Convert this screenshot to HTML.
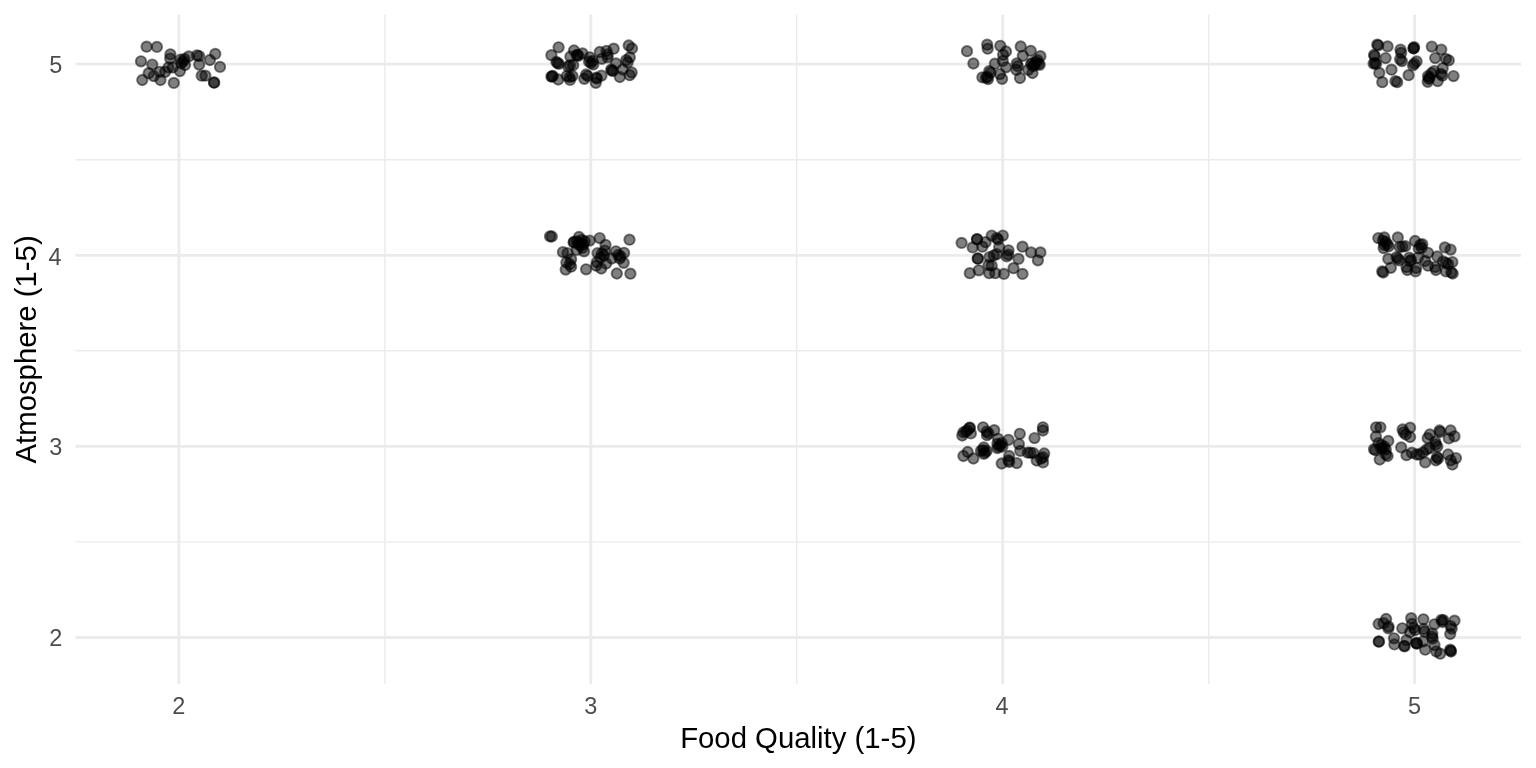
<!DOCTYPE html>
<html><head><meta charset="utf-8"><title>plot</title>
<style>
html,body{margin:0;padding:0;background:#fff;}
body{width:1536px;height:768px;overflow:hidden;position:relative;font-family:"Liberation Sans",sans-serif;}
svg{position:absolute;left:0;top:0;will-change:transform;}
.tick{font-size:23.47px;fill:#4d4d4d;}
.ttl{font-size:29.33px;fill:#000;}
.p{fill:#000;fill-opacity:.5;stroke:#000;stroke-opacity:.5;stroke-width:1.9;}
</style></head><body>
<svg width="1536" height="768" viewBox="0 0 1536 768">
<rect width="1536" height="768" fill="#fff"/>
<g stroke="#ebebeb" fill="none">
<line x1="384.9" x2="384.9" y1="14.8" y2="684.0" stroke-width="1.42"/>
<line x1="796.7" x2="796.7" y1="14.8" y2="684.0" stroke-width="1.42"/>
<line x1="1208.7" x2="1208.7" y1="14.8" y2="684.0" stroke-width="1.42"/>
<line y1="541.9" y2="541.9" x1="75.5" x2="1521.0" stroke-width="1.42"/>
<line y1="350.8" y2="350.8" x1="75.5" x2="1521.0" stroke-width="1.42"/>
<line y1="159.7" y2="159.7" x1="75.5" x2="1521.0" stroke-width="1.42"/>
<line x1="178.9" x2="178.9" y1="14.8" y2="684.0" stroke-width="2.85"/>
<line x1="590.8" x2="590.8" y1="14.8" y2="684.0" stroke-width="2.85"/>
<line x1="1002.7" x2="1002.7" y1="14.8" y2="684.0" stroke-width="2.85"/>
<line x1="1414.6" x2="1414.6" y1="14.8" y2="684.0" stroke-width="2.85"/>
<line y1="637.5" y2="637.5" x1="75.5" x2="1521.0" stroke-width="2.85"/>
<line y1="446.4" y2="446.4" x1="75.5" x2="1521.0" stroke-width="2.85"/>
<line y1="255.3" y2="255.3" x1="75.5" x2="1521.0" stroke-width="2.85"/>
<line y1="64.1" y2="64.1" x1="75.5" x2="1521.0" stroke-width="2.85"/>
</g>
<g class="pts">
<circle class="p" cx="146.6" cy="46.7" r="5.2"/>
<circle class="p" cx="156.9" cy="46.9" r="5.2"/>
<circle class="p" cx="141.0" cy="61.3" r="5.2"/>
<circle class="p" cx="152.3" cy="64.6" r="5.2"/>
<circle class="p" cx="170.4" cy="54.3" r="5.2"/>
<circle class="p" cx="170.2" cy="58.6" r="5.2"/>
<circle class="p" cx="148.7" cy="73.2" r="5.2"/>
<circle class="p" cx="153.7" cy="76.1" r="5.2"/>
<circle class="p" cx="142.3" cy="80.0" r="5.2"/>
<circle class="p" cx="160.5" cy="80.0" r="5.2"/>
<circle class="p" cx="173.8" cy="82.9" r="5.2"/>
<circle class="p" cx="159.8" cy="71.8" r="5.2"/>
<circle class="p" cx="165.2" cy="71.8" r="5.2"/>
<circle class="p" cx="168.4" cy="67.5" r="5.2"/>
<circle class="p" cx="172.7" cy="67.5" r="5.2"/>
<circle class="p" cx="179.9" cy="71.1" r="5.2"/>
<circle class="p" cx="180.6" cy="59.6" r="5.2"/>
<circle class="p" cx="183.4" cy="61.1" r="5.2"/>
<circle class="p" cx="184.5" cy="58.9" r="5.2"/>
<circle class="p" cx="181.3" cy="63.2" r="5.2"/>
<circle class="p" cx="188.8" cy="56.4" r="5.2"/>
<circle class="p" cx="197.0" cy="55.3" r="5.2"/>
<circle class="p" cx="199.2" cy="56.1" r="5.2"/>
<circle class="p" cx="199.2" cy="64.6" r="5.2"/>
<circle class="p" cx="209.9" cy="60.0" r="5.2"/>
<circle class="p" cx="215.3" cy="53.9" r="5.2"/>
<circle class="p" cx="220.0" cy="66.9" r="5.2"/>
<circle class="p" cx="201.7" cy="75.7" r="5.2"/>
<circle class="p" cx="205.4" cy="75.7" r="5.2"/>
<circle class="p" cx="214.1" cy="82.5" r="5.2"/>
<circle class="p" cx="214.1" cy="82.7" r="5.2"/>
<circle class="p" cx="185.0" cy="65.0" r="5.2"/>
<circle class="p" cx="558.6" cy="47.3" r="5.2"/>
<circle class="p" cx="551.4" cy="55.2" r="5.2"/>
<circle class="p" cx="551.4" cy="76.7" r="5.2"/>
<circle class="p" cx="552.8" cy="76.0" r="5.2"/>
<circle class="p" cx="552.1" cy="76.3" r="5.2"/>
<circle class="p" cx="558.2" cy="79.5" r="5.2"/>
<circle class="p" cx="574.0" cy="50.5" r="5.2"/>
<circle class="p" cx="576.8" cy="55.2" r="5.2"/>
<circle class="p" cx="578.3" cy="55.9" r="5.2"/>
<circle class="p" cx="577.5" cy="54.8" r="5.2"/>
<circle class="p" cx="570.4" cy="56.6" r="5.2"/>
<circle class="p" cx="582.5" cy="53.4" r="5.2"/>
<circle class="p" cx="568.2" cy="66.6" r="5.2"/>
<circle class="p" cx="570.0" cy="65.2" r="5.2"/>
<circle class="p" cx="573.2" cy="65.2" r="5.2"/>
<circle class="p" cx="569.7" cy="77.0" r="5.2"/>
<circle class="p" cx="572.5" cy="76.0" r="5.2"/>
<circle class="p" cx="570.0" cy="79.9" r="5.2"/>
<circle class="p" cx="566.8" cy="76.0" r="5.2"/>
<circle class="p" cx="589.7" cy="57.3" r="5.2"/>
<circle class="p" cx="589.0" cy="61.6" r="5.2"/>
<circle class="p" cx="591.1" cy="63.1" r="5.2"/>
<circle class="p" cx="592.6" cy="60.9" r="5.2"/>
<circle class="p" cx="593.3" cy="64.5" r="5.2"/>
<circle class="p" cx="586.1" cy="74.5" r="5.2"/>
<circle class="p" cx="587.6" cy="76.0" r="5.2"/>
<circle class="p" cx="584.3" cy="78.8" r="5.2"/>
<circle class="p" cx="596.2" cy="77.7" r="5.2"/>
<circle class="p" cx="596.9" cy="78.5" r="5.2"/>
<circle class="p" cx="601.5" cy="75.6" r="5.2"/>
<circle class="p" cx="595.8" cy="82.8" r="5.2"/>
<circle class="p" cx="599.7" cy="52.0" r="5.2"/>
<circle class="p" cx="606.5" cy="50.9" r="5.2"/>
<circle class="p" cx="607.6" cy="54.5" r="5.2"/>
<circle class="p" cx="613.7" cy="48.7" r="5.2"/>
<circle class="p" cx="601.9" cy="58.8" r="5.2"/>
<circle class="p" cx="607.6" cy="57.3" r="5.2"/>
<circle class="p" cx="615.9" cy="63.4" r="5.2"/>
<circle class="p" cx="611.2" cy="69.5" r="5.2"/>
<circle class="p" cx="613.0" cy="70.9" r="5.2"/>
<circle class="p" cx="611.9" cy="70.6" r="5.2"/>
<circle class="p" cx="619.8" cy="77.0" r="5.2"/>
<circle class="p" cx="622.7" cy="69.5" r="5.2"/>
<circle class="p" cx="626.2" cy="60.2" r="5.2"/>
<circle class="p" cx="627.7" cy="62.3" r="5.2"/>
<circle class="p" cx="629.8" cy="57.3" r="5.2"/>
<circle class="p" cx="628.7" cy="45.5" r="5.2"/>
<circle class="p" cx="632.0" cy="48.4" r="5.2"/>
<circle class="p" cx="556.4" cy="62.0" r="5.2"/>
<circle class="p" cx="558.8" cy="63.9" r="5.2"/>
<circle class="p" cx="557.7" cy="63.1" r="5.2"/>
<circle class="p" cx="631.7" cy="72.5" r="5.2"/>
<circle class="p" cx="629.7" cy="75.2" r="5.2"/>
<circle class="p" cx="967.0" cy="51.2" r="5.2"/>
<circle class="p" cx="973.4" cy="63.5" r="5.2"/>
<circle class="p" cx="987.2" cy="44.7" r="5.2"/>
<circle class="p" cx="987.7" cy="48.7" r="5.2"/>
<circle class="p" cx="1000.3" cy="45.8" r="5.2"/>
<circle class="p" cx="1006.0" cy="51.5" r="5.2"/>
<circle class="p" cx="1003.1" cy="54.8" r="5.2"/>
<circle class="p" cx="1002.8" cy="60.9" r="5.2"/>
<circle class="p" cx="994.9" cy="63.7" r="5.2"/>
<circle class="p" cx="1006.0" cy="67.3" r="5.2"/>
<circle class="p" cx="989.2" cy="71.2" r="5.2"/>
<circle class="p" cx="990.6" cy="72.7" r="5.2"/>
<circle class="p" cx="986.0" cy="77.7" r="5.2"/>
<circle class="p" cx="987.4" cy="77.0" r="5.2"/>
<circle class="p" cx="988.1" cy="79.1" r="5.2"/>
<circle class="p" cx="982.4" cy="77.3" r="5.2"/>
<circle class="p" cx="999.9" cy="74.1" r="5.2"/>
<circle class="p" cx="1002.1" cy="78.8" r="5.2"/>
<circle class="p" cx="1020.7" cy="46.5" r="5.2"/>
<circle class="p" cx="1030.7" cy="50.8" r="5.2"/>
<circle class="p" cx="1022.8" cy="55.8" r="5.2"/>
<circle class="p" cx="1016.8" cy="63.4" r="5.2"/>
<circle class="p" cx="1017.8" cy="66.2" r="5.2"/>
<circle class="p" cx="1016.4" cy="69.8" r="5.2"/>
<circle class="p" cx="1020.0" cy="78.0" r="5.2"/>
<circle class="p" cx="1032.5" cy="62.6" r="5.2"/>
<circle class="p" cx="1034.7" cy="64.8" r="5.2"/>
<circle class="p" cx="1036.1" cy="61.9" r="5.2"/>
<circle class="p" cx="1033.2" cy="66.2" r="5.2"/>
<circle class="p" cx="1031.1" cy="64.1" r="5.2"/>
<circle class="p" cx="1040.4" cy="56.2" r="5.2"/>
<circle class="p" cx="1039.7" cy="64.8" r="5.2"/>
<circle class="p" cx="1032.5" cy="73.0" r="5.2"/>
<circle class="p" cx="1028.2" cy="69.8" r="5.2"/>
<circle class="p" cx="1038.6" cy="63.7" r="5.2"/>
<circle class="p" cx="1037.5" cy="60.1" r="5.2"/>
<circle class="p" cx="1377.2" cy="44.7" r="5.2"/>
<circle class="p" cx="1378.3" cy="45.3" r="5.2"/>
<circle class="p" cx="1387.6" cy="46.4" r="5.2"/>
<circle class="p" cx="1374.0" cy="55.0" r="5.2"/>
<circle class="p" cx="1374.7" cy="56.1" r="5.2"/>
<circle class="p" cx="1373.6" cy="63.6" r="5.2"/>
<circle class="p" cx="1375.0" cy="62.9" r="5.2"/>
<circle class="p" cx="1376.1" cy="63.9" r="5.2"/>
<circle class="p" cx="1385.6" cy="58.1" r="5.2"/>
<circle class="p" cx="1379.3" cy="72.9" r="5.2"/>
<circle class="p" cx="1391.5" cy="69.7" r="5.2"/>
<circle class="p" cx="1382.3" cy="82.2" r="5.2"/>
<circle class="p" cx="1395.4" cy="81.1" r="5.2"/>
<circle class="p" cx="1397.2" cy="82.2" r="5.2"/>
<circle class="p" cx="1400.5" cy="49.6" r="5.2"/>
<circle class="p" cx="1401.2" cy="52.8" r="5.2"/>
<circle class="p" cx="1400.1" cy="59.3" r="5.2"/>
<circle class="p" cx="1401.9" cy="61.1" r="5.2"/>
<circle class="p" cx="1413.4" cy="48.2" r="5.2"/>
<circle class="p" cx="1414.1" cy="47.1" r="5.2"/>
<circle class="p" cx="1413.7" cy="48.5" r="5.2"/>
<circle class="p" cx="1416.6" cy="61.4" r="5.2"/>
<circle class="p" cx="1413.0" cy="65.4" r="5.2"/>
<circle class="p" cx="1414.4" cy="63.6" r="5.2"/>
<circle class="p" cx="1408.6" cy="75.2" r="5.2"/>
<circle class="p" cx="1431.8" cy="46.6" r="5.2"/>
<circle class="p" cx="1441.3" cy="49.6" r="5.2"/>
<circle class="p" cx="1435.2" cy="58.1" r="5.2"/>
<circle class="p" cx="1445.9" cy="58.9" r="5.2"/>
<circle class="p" cx="1448.8" cy="60.3" r="5.2"/>
<circle class="p" cx="1442.7" cy="68.2" r="5.2"/>
<circle class="p" cx="1434.1" cy="71.1" r="5.2"/>
<circle class="p" cx="1428.0" cy="76.1" r="5.2"/>
<circle class="p" cx="1429.5" cy="77.5" r="5.2"/>
<circle class="p" cx="1428.8" cy="79.0" r="5.2"/>
<circle class="p" cx="1427.7" cy="81.8" r="5.2"/>
<circle class="p" cx="1437.7" cy="81.1" r="5.2"/>
<circle class="p" cx="1440.9" cy="74.0" r="5.2"/>
<circle class="p" cx="1442.4" cy="75.7" r="5.2"/>
<circle class="p" cx="1453.5" cy="76.1" r="5.2"/>
<circle class="p" cx="1431.6" cy="73.2" r="5.2"/>
<circle class="p" cx="550.0" cy="236.3" r="5.2"/>
<circle class="p" cx="551.8" cy="236.5" r="5.2"/>
<circle class="p" cx="562.9" cy="252.1" r="5.2"/>
<circle class="p" cx="567.5" cy="253.1" r="5.2"/>
<circle class="p" cx="571.1" cy="259.2" r="5.2"/>
<circle class="p" cx="566.4" cy="262.4" r="5.2"/>
<circle class="p" cx="569.7" cy="264.2" r="5.2"/>
<circle class="p" cx="565.7" cy="269.6" r="5.2"/>
<circle class="p" cx="571.1" cy="266.7" r="5.2"/>
<circle class="p" cx="579.0" cy="237.0" r="5.2"/>
<circle class="p" cx="574.0" cy="242.0" r="5.2"/>
<circle class="p" cx="573.6" cy="242.4" r="5.2"/>
<circle class="p" cx="576.8" cy="241.3" r="5.2"/>
<circle class="p" cx="579.7" cy="242.8" r="5.2"/>
<circle class="p" cx="581.8" cy="239.9" r="5.2"/>
<circle class="p" cx="583.3" cy="244.2" r="5.2"/>
<circle class="p" cx="580.4" cy="245.6" r="5.2"/>
<circle class="p" cx="582.5" cy="247.8" r="5.2"/>
<circle class="p" cx="578.3" cy="244.2" r="5.2"/>
<circle class="p" cx="584.7" cy="241.3" r="5.2"/>
<circle class="p" cx="589.7" cy="240.6" r="5.2"/>
<circle class="p" cx="576.8" cy="249.9" r="5.2"/>
<circle class="p" cx="584.0" cy="251.3" r="5.2"/>
<circle class="p" cx="599.7" cy="238.1" r="5.2"/>
<circle class="p" cx="605.5" cy="244.9" r="5.2"/>
<circle class="p" cx="597.6" cy="253.1" r="5.2"/>
<circle class="p" cx="601.9" cy="253.5" r="5.2"/>
<circle class="p" cx="604.0" cy="255.6" r="5.2"/>
<circle class="p" cx="600.5" cy="257.8" r="5.2"/>
<circle class="p" cx="596.9" cy="262.1" r="5.2"/>
<circle class="p" cx="596.2" cy="265.7" r="5.2"/>
<circle class="p" cx="601.2" cy="268.5" r="5.2"/>
<circle class="p" cx="606.2" cy="263.5" r="5.2"/>
<circle class="p" cx="611.9" cy="258.5" r="5.2"/>
<circle class="p" cx="604.8" cy="250.6" r="5.2"/>
<circle class="p" cx="586.1" cy="269.3" r="5.2"/>
<circle class="p" cx="615.9" cy="251.3" r="5.2"/>
<circle class="p" cx="624.1" cy="252.8" r="5.2"/>
<circle class="p" cx="618.4" cy="254.9" r="5.2"/>
<circle class="p" cx="620.5" cy="256.4" r="5.2"/>
<circle class="p" cx="619.8" cy="258.5" r="5.2"/>
<circle class="p" cx="623.7" cy="262.8" r="5.2"/>
<circle class="p" cx="629.5" cy="239.7" r="5.2"/>
<circle class="p" cx="616.8" cy="273.5" r="5.2"/>
<circle class="p" cx="630.4" cy="273.7" r="5.2"/>
<circle class="p" cx="961.6" cy="242.9" r="5.2"/>
<circle class="p" cx="977.0" cy="239.2" r="5.2"/>
<circle class="p" cx="977.1" cy="239.3" r="5.2"/>
<circle class="p" cx="972.7" cy="247.4" r="5.2"/>
<circle class="p" cx="985.6" cy="242.2" r="5.2"/>
<circle class="p" cx="982.4" cy="246.7" r="5.2"/>
<circle class="p" cx="991.7" cy="235.6" r="5.2"/>
<circle class="p" cx="1002.8" cy="235.6" r="5.2"/>
<circle class="p" cx="996.7" cy="238.1" r="5.2"/>
<circle class="p" cx="998.1" cy="239.5" r="5.2"/>
<circle class="p" cx="999.2" cy="247.1" r="5.2"/>
<circle class="p" cx="1008.5" cy="250.3" r="5.2"/>
<circle class="p" cx="1006.7" cy="256.4" r="5.2"/>
<circle class="p" cx="1008.2" cy="254.6" r="5.2"/>
<circle class="p" cx="993.8" cy="255.3" r="5.2"/>
<circle class="p" cx="996.7" cy="254.2" r="5.2"/>
<circle class="p" cx="989.5" cy="257.1" r="5.2"/>
<circle class="p" cx="977.7" cy="258.5" r="5.2"/>
<circle class="p" cx="977.9" cy="258.7" r="5.2"/>
<circle class="p" cx="988.5" cy="265.0" r="5.2"/>
<circle class="p" cx="991.7" cy="265.7" r="5.2"/>
<circle class="p" cx="978.8" cy="270.3" r="5.2"/>
<circle class="p" cx="969.8" cy="273.2" r="5.2"/>
<circle class="p" cx="989.2" cy="273.2" r="5.2"/>
<circle class="p" cx="995.3" cy="273.2" r="5.2"/>
<circle class="p" cx="1003.9" cy="273.9" r="5.2"/>
<circle class="p" cx="1018.5" cy="258.9" r="5.2"/>
<circle class="p" cx="1013.5" cy="268.2" r="5.2"/>
<circle class="p" cx="1022.5" cy="273.9" r="5.2"/>
<circle class="p" cx="1022.5" cy="246.7" r="5.2"/>
<circle class="p" cx="1031.1" cy="252.4" r="5.2"/>
<circle class="p" cx="1040.4" cy="252.4" r="5.2"/>
<circle class="p" cx="1037.9" cy="260.3" r="5.2"/>
<circle class="p" cx="1378.3" cy="238.1" r="5.2"/>
<circle class="p" cx="1384.3" cy="237.4" r="5.2"/>
<circle class="p" cx="1382.9" cy="240.6" r="5.2"/>
<circle class="p" cx="1385.8" cy="242.0" r="5.2"/>
<circle class="p" cx="1384.3" cy="244.9" r="5.2"/>
<circle class="p" cx="1387.2" cy="244.2" r="5.2"/>
<circle class="p" cx="1383.6" cy="248.1" r="5.2"/>
<circle class="p" cx="1388.6" cy="246.3" r="5.2"/>
<circle class="p" cx="1397.8" cy="237.4" r="5.2"/>
<circle class="p" cx="1388.3" cy="258.9" r="5.2"/>
<circle class="p" cx="1396.5" cy="257.1" r="5.2"/>
<circle class="p" cx="1398.0" cy="258.5" r="5.2"/>
<circle class="p" cx="1399.0" cy="260.3" r="5.2"/>
<circle class="p" cx="1390.8" cy="267.8" r="5.2"/>
<circle class="p" cx="1382.2" cy="271.4" r="5.2"/>
<circle class="p" cx="1383.3" cy="272.5" r="5.2"/>
<circle class="p" cx="1415.1" cy="241.0" r="5.2"/>
<circle class="p" cx="1420.2" cy="244.9" r="5.2"/>
<circle class="p" cx="1422.3" cy="244.2" r="5.2"/>
<circle class="p" cx="1421.6" cy="247.8" r="5.2"/>
<circle class="p" cx="1418.7" cy="248.5" r="5.2"/>
<circle class="p" cx="1406.5" cy="267.1" r="5.2"/>
<circle class="p" cx="1407.3" cy="270.0" r="5.2"/>
<circle class="p" cx="1416.2" cy="267.8" r="5.2"/>
<circle class="p" cx="1415.5" cy="271.4" r="5.2"/>
<circle class="p" cx="1418.0" cy="257.8" r="5.2"/>
<circle class="p" cx="1425.2" cy="261.0" r="5.2"/>
<circle class="p" cx="1428.0" cy="265.7" r="5.2"/>
<circle class="p" cx="1435.2" cy="267.1" r="5.2"/>
<circle class="p" cx="1435.9" cy="270.0" r="5.2"/>
<circle class="p" cx="1437.3" cy="256.4" r="5.2"/>
<circle class="p" cx="1444.9" cy="247.4" r="5.2"/>
<circle class="p" cx="1450.6" cy="249.6" r="5.2"/>
<circle class="p" cx="1452.4" cy="262.1" r="5.2"/>
<circle class="p" cx="1445.9" cy="262.8" r="5.2"/>
<circle class="p" cx="1448.1" cy="264.2" r="5.2"/>
<circle class="p" cx="1443.1" cy="261.4" r="5.2"/>
<circle class="p" cx="1451.3" cy="272.5" r="5.2"/>
<circle class="p" cx="1452.7" cy="273.5" r="5.2"/>
<circle class="p" cx="1445.9" cy="271.4" r="5.2"/>
<circle class="p" cx="1399.6" cy="247.0" r="5.2"/>
<circle class="p" cx="1402.5" cy="246.6" r="5.2"/>
<circle class="p" cx="1405.3" cy="246.2" r="5.2"/>
<circle class="p" cx="1428.0" cy="252.8" r="5.2"/>
<circle class="p" cx="1409.3" cy="257.7" r="5.2"/>
<circle class="p" cx="1411.0" cy="259.9" r="5.2"/>
<circle class="p" cx="1410.1" cy="261.2" r="5.2"/>
<circle class="p" cx="969.8" cy="427.7" r="5.2"/>
<circle class="p" cx="970.9" cy="433.4" r="5.2"/>
<circle class="p" cx="963.4" cy="432.3" r="5.2"/>
<circle class="p" cx="965.9" cy="431.6" r="5.2"/>
<circle class="p" cx="967.3" cy="430.2" r="5.2"/>
<circle class="p" cx="962.3" cy="435.5" r="5.2"/>
<circle class="p" cx="983.1" cy="427.3" r="5.2"/>
<circle class="p" cx="994.2" cy="430.2" r="5.2"/>
<circle class="p" cx="986.7" cy="431.6" r="5.2"/>
<circle class="p" cx="988.5" cy="433.4" r="5.2"/>
<circle class="p" cx="987.0" cy="435.2" r="5.2"/>
<circle class="p" cx="998.1" cy="438.8" r="5.2"/>
<circle class="p" cx="997.4" cy="443.8" r="5.2"/>
<circle class="p" cx="1000.3" cy="445.2" r="5.2"/>
<circle class="p" cx="1001.7" cy="443.1" r="5.2"/>
<circle class="p" cx="998.8" cy="446.6" r="5.2"/>
<circle class="p" cx="1002.4" cy="446.6" r="5.2"/>
<circle class="p" cx="997.4" cy="448.1" r="5.2"/>
<circle class="p" cx="1008.5" cy="439.8" r="5.2"/>
<circle class="p" cx="1019.8" cy="433.8" r="5.2"/>
<circle class="p" cx="1018.9" cy="444.1" r="5.2"/>
<circle class="p" cx="1020.3" cy="450.9" r="5.2"/>
<circle class="p" cx="967.7" cy="452.0" r="5.2"/>
<circle class="p" cx="963.4" cy="456.0" r="5.2"/>
<circle class="p" cx="973.4" cy="458.5" r="5.2"/>
<circle class="p" cx="983.1" cy="450.2" r="5.2"/>
<circle class="p" cx="985.2" cy="452.4" r="5.2"/>
<circle class="p" cx="986.7" cy="450.9" r="5.2"/>
<circle class="p" cx="983.8" cy="453.8" r="5.2"/>
<circle class="p" cx="980.9" cy="450.9" r="5.2"/>
<circle class="p" cx="983.8" cy="447.4" r="5.2"/>
<circle class="p" cx="1009.2" cy="456.0" r="5.2"/>
<circle class="p" cx="1008.5" cy="460.3" r="5.2"/>
<circle class="p" cx="1009.2" cy="462.0" r="5.2"/>
<circle class="p" cx="1001.7" cy="463.5" r="5.2"/>
<circle class="p" cx="1016.8" cy="463.1" r="5.2"/>
<circle class="p" cx="1042.9" cy="427.3" r="5.2"/>
<circle class="p" cx="1042.9" cy="430.5" r="5.2"/>
<circle class="p" cx="1034.5" cy="438.1" r="5.2"/>
<circle class="p" cx="969.5" cy="428.0" r="5.2"/>
<circle class="p" cx="1027.8" cy="452.7" r="5.2"/>
<circle class="p" cx="1030.5" cy="452.7" r="5.2"/>
<circle class="p" cx="1033.4" cy="453.1" r="5.2"/>
<circle class="p" cx="1044.2" cy="453.5" r="5.2"/>
<circle class="p" cx="1043.0" cy="457.2" r="5.2"/>
<circle class="p" cx="1041.0" cy="458.7" r="5.2"/>
<circle class="p" cx="1036.7" cy="460.5" r="5.2"/>
<circle class="p" cx="1043.0" cy="462.4" r="5.2"/>
<circle class="p" cx="1376.1" cy="427.3" r="5.2"/>
<circle class="p" cx="1380.4" cy="427.3" r="5.2"/>
<circle class="p" cx="1375.9" cy="436.6" r="5.2"/>
<circle class="p" cx="1378.6" cy="443.1" r="5.2"/>
<circle class="p" cx="1381.5" cy="445.2" r="5.2"/>
<circle class="p" cx="1384.3" cy="446.6" r="5.2"/>
<circle class="p" cx="1382.9" cy="448.8" r="5.2"/>
<circle class="p" cx="1385.8" cy="449.5" r="5.2"/>
<circle class="p" cx="1380.8" cy="448.1" r="5.2"/>
<circle class="p" cx="1388.3" cy="440.9" r="5.2"/>
<circle class="p" cx="1374.0" cy="449.2" r="5.2"/>
<circle class="p" cx="1375.4" cy="450.2" r="5.2"/>
<circle class="p" cx="1379.7" cy="459.5" r="5.2"/>
<circle class="p" cx="1385.8" cy="454.5" r="5.2"/>
<circle class="p" cx="1387.6" cy="456.0" r="5.2"/>
<circle class="p" cx="1402.6" cy="429.5" r="5.2"/>
<circle class="p" cx="1410.1" cy="427.7" r="5.2"/>
<circle class="p" cx="1403.7" cy="432.3" r="5.2"/>
<circle class="p" cx="1405.8" cy="434.5" r="5.2"/>
<circle class="p" cx="1410.1" cy="437.0" r="5.2"/>
<circle class="p" cx="1401.2" cy="447.4" r="5.2"/>
<circle class="p" cx="1406.5" cy="455.2" r="5.2"/>
<circle class="p" cx="1411.9" cy="452.7" r="5.2"/>
<circle class="p" cx="1416.6" cy="454.5" r="5.2"/>
<circle class="p" cx="1419.4" cy="454.5" r="5.2"/>
<circle class="p" cx="1423.0" cy="452.4" r="5.2"/>
<circle class="p" cx="1426.6" cy="449.5" r="5.2"/>
<circle class="p" cx="1429.5" cy="448.1" r="5.2"/>
<circle class="p" cx="1425.2" cy="462.4" r="5.2"/>
<circle class="p" cx="1429.8" cy="434.5" r="5.2"/>
<circle class="p" cx="1439.5" cy="430.5" r="5.2"/>
<circle class="p" cx="1440.2" cy="432.0" r="5.2"/>
<circle class="p" cx="1435.9" cy="444.5" r="5.2"/>
<circle class="p" cx="1437.3" cy="446.6" r="5.2"/>
<circle class="p" cx="1435.2" cy="441.6" r="5.2"/>
<circle class="p" cx="1437.0" cy="457.0" r="5.2"/>
<circle class="p" cx="1438.1" cy="458.5" r="5.2"/>
<circle class="p" cx="1435.9" cy="460.3" r="5.2"/>
<circle class="p" cx="1450.6" cy="430.5" r="5.2"/>
<circle class="p" cx="1454.5" cy="436.3" r="5.2"/>
<circle class="p" cx="1448.8" cy="438.4" r="5.2"/>
<circle class="p" cx="1448.1" cy="454.5" r="5.2"/>
<circle class="p" cx="1456.0" cy="458.1" r="5.2"/>
<circle class="p" cx="1452.4" cy="464.5" r="5.2"/>
<circle class="p" cx="1450.8" cy="460.3" r="5.2"/>
<circle class="p" cx="1427.7" cy="438.2" r="5.2"/>
<circle class="p" cx="1378.6" cy="624.0" r="5.2"/>
<circle class="p" cx="1386.1" cy="619.0" r="5.2"/>
<circle class="p" cx="1388.3" cy="628.3" r="5.2"/>
<circle class="p" cx="1388.6" cy="626.5" r="5.2"/>
<circle class="p" cx="1383.6" cy="623.2" r="5.2"/>
<circle class="p" cx="1378.8" cy="641.5" r="5.2"/>
<circle class="p" cx="1378.9" cy="641.7" r="5.2"/>
<circle class="p" cx="1394.0" cy="638.3" r="5.2"/>
<circle class="p" cx="1394.4" cy="644.4" r="5.2"/>
<circle class="p" cx="1402.3" cy="628.3" r="5.2"/>
<circle class="p" cx="1406.5" cy="640.1" r="5.2"/>
<circle class="p" cx="1411.2" cy="618.2" r="5.2"/>
<circle class="p" cx="1411.9" cy="624.0" r="5.2"/>
<circle class="p" cx="1413.7" cy="627.9" r="5.2"/>
<circle class="p" cx="1415.1" cy="630.1" r="5.2"/>
<circle class="p" cx="1410.1" cy="632.2" r="5.2"/>
<circle class="p" cx="1416.2" cy="642.9" r="5.2"/>
<circle class="p" cx="1416.9" cy="643.7" r="5.2"/>
<circle class="p" cx="1416.6" cy="643.3" r="5.2"/>
<circle class="p" cx="1423.4" cy="619.3" r="5.2"/>
<circle class="p" cx="1423.7" cy="629.0" r="5.2"/>
<circle class="p" cx="1424.5" cy="631.5" r="5.2"/>
<circle class="p" cx="1425.2" cy="649.7" r="5.2"/>
<circle class="p" cx="1434.5" cy="624.3" r="5.2"/>
<circle class="p" cx="1432.0" cy="636.5" r="5.2"/>
<circle class="p" cx="1432.7" cy="638.6" r="5.2"/>
<circle class="p" cx="1432.3" cy="633.6" r="5.2"/>
<circle class="p" cx="1434.5" cy="645.1" r="5.2"/>
<circle class="p" cx="1436.3" cy="651.5" r="5.2"/>
<circle class="p" cx="1440.2" cy="653.7" r="5.2"/>
<circle class="p" cx="1454.5" cy="620.7" r="5.2"/>
<circle class="p" cx="1450.6" cy="626.1" r="5.2"/>
<circle class="p" cx="1451.7" cy="628.6" r="5.2"/>
<circle class="p" cx="1450.2" cy="634.0" r="5.2"/>
<circle class="p" cx="1450.2" cy="649.7" r="5.2"/>
<circle class="p" cx="1451.0" cy="651.5" r="5.2"/>
<circle class="p" cx="1450.6" cy="650.8" r="5.2"/>
<circle class="p" cx="1423.0" cy="641.5" r="5.2"/>
<circle class="p" cx="1404.3" cy="645.8" r="5.2"/>
<circle class="p" cx="1404.6" cy="646.3" r="5.2"/>
<circle class="p" cx="1441.4" cy="619.9" r="5.2"/>
<circle class="p" cx="1443.4" cy="620.2" r="5.2"/>
<circle class="p" cx="1442.4" cy="622.0" r="5.2"/>
</g>
<text class="tick" x="62.3" y="645.9" text-anchor="end">2</text>
<text class="tick" x="62.3" y="454.7" text-anchor="end">3</text>
<text class="tick" x="61.6" y="264.5" text-anchor="end">4</text>
<text class="tick" x="62.3" y="73.4" text-anchor="end">5</text>
<text class="tick" x="178.9" y="714.4" text-anchor="middle">2</text>
<text class="tick" x="590.8" y="714.4" text-anchor="middle">3</text>
<text class="tick" x="1002.0" y="714.4" text-anchor="middle">4</text>
<text class="tick" x="1414.6" y="714.4" text-anchor="middle">5</text>
<text class="ttl" x="798.3" y="748" text-anchor="middle">Food Quality (1-5)</text>
<text class="ttl" transform="translate(35.6,349.4) rotate(-90)" text-anchor="middle">Atmosphere (1-5)</text>
</svg></body></html>
